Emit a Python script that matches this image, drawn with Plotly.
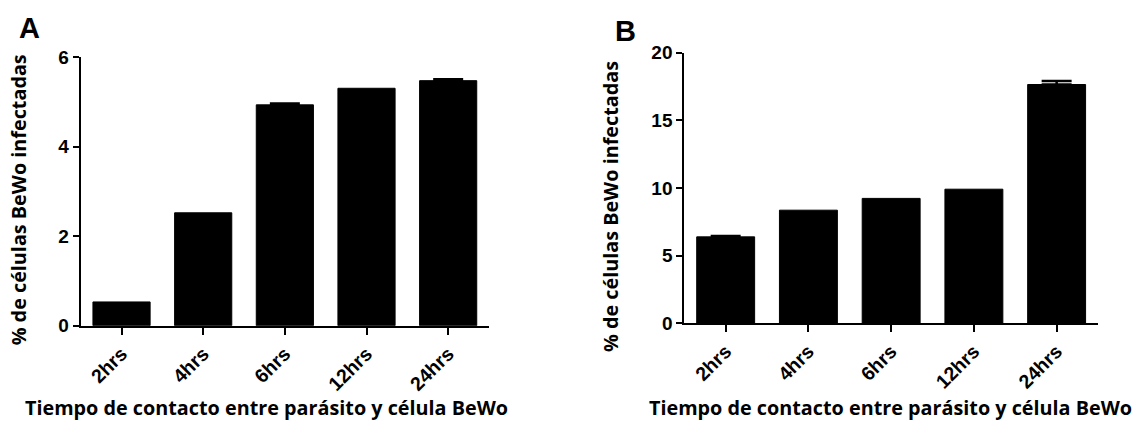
import plotly.graph_objects as go

categories = ["2hrs", "4hrs", "6hrs", "12hrs", "24hrs"]
values_a = [0.53, 2.52, 4.93, 5.30, 5.47]
errors_a = [0.0, 0.0, 0.03, 0.0, 0.03]
values_b = [6.39, 8.36, 9.23, 9.91, 17.64]
errors_b = [0.06, 0.0, 0.0, 0.0, 0.25]
yticks_a = [0, 2, 4, 6]
yticks_b = [0, 5, 10, 15, 20]
x_title = "Tiempo de contacto entre parásito y célula BeWo"
y_title = "% de células BeWo infectadas"

W, H = 1148, 435
ytick_font = dict(family="Liberation Sans, Arial", size=19, color="black", weight="bold")
xtick_font = dict(family="Liberation Sans, Arial", size=19.5, color="black", weight="bold")
title_font = dict(family="Open Sans", size=19.8, color="black", weight="bold")

fig = go.Figure()
for vals, errs, xa, ya in [(values_a, errors_a, "x", "y"), (values_b, errors_b, "x2", "y2")]:
    xs = list(range(len(categories)))
    fig.add_trace(go.Bar(
        x=xs, y=vals, width=0.7,
        marker=dict(color="black", line=dict(color="black", width=1)),
        xaxis=xa, yaxis=ya, showlegend=False,
    ))
    idx = [i for i, e in enumerate(errs) if e > 0]
    fig.add_trace(go.Scatter(
        x=[xs[i] for i in idx], y=[vals[i] for i in idx], mode="markers",
        marker=dict(size=1, color="black", opacity=0),
        error_y=dict(type="data", array=[errs[i] for i in idx], symmetric=False,
                     arrayminus=[0] * len(idx), color="black",
                     thickness=2.5, width=15),
        xaxis=xa, yaxis=ya, showlegend=False, hoverinfo="skip",
    ))

def xaxis(domain, anchor):
    return dict(domain=domain, anchor=anchor, range=[-0.5, 4.5],
                tickmode="array", tickvals=list(range(len(categories))),
                ticktext=categories, tickangle=-45, tickfont=xtick_font,
                showline=True, linecolor="black", linewidth=2,
                ticks="outside", ticklen=7, tickwidth=2, tickcolor="black",
                showgrid=False, zeroline=False, fixedrange=True)

def yaxis(domain, anchor, rng, tv):
    return dict(domain=domain, anchor=anchor, range=rng,
                tickmode="array", tickvals=tv, tickfont=ytick_font,
                showline=True, linecolor="black", linewidth=2,
                ticks="outside", ticklen=6, tickwidth=2, tickcolor="black",
                showgrid=False, zeroline=False, fixedrange=True)

fig.update_layout(
    width=W, height=H, margin=dict(l=0, r=0, t=0, b=0),
    paper_bgcolor="white", plot_bgcolor="white",
    xaxis=xaxis([80.7 / W, 489 / W], "y"),
    yaxis=yaxis([1 - 331.7 / H, 1 - 49.3 / H], "x", [0, 6], yticks_a),
    xaxis2=xaxis([684.3 / W, 1098 / W], "y2"),
    yaxis2=yaxis([1 - 329.3 / H, 1 - 44.7 / H], "x2", [0, 20], yticks_b),
    bargap=0.3,
)

annots = [
    dict(text="A", x=29 / W, y=1 - 19 / H, font=dict(family="Liberation Sans, Arial", size=29, color="black", weight="bold")),
    dict(text="B", x=625 / W, y=1 - 22 / H, font=dict(family="Liberation Sans, Arial", size=29, color="black", weight="bold")),
    dict(text=x_title, x=266 / W, y=1 - 418 / H, font=title_font),
    dict(text=x_title, x=890 / W, y=1 - 418 / H, font=title_font),
    dict(text=y_title, x=18 / W, y=1 - 200 / H, textangle=-90, font=title_font),
    dict(text=y_title, x=610 / W, y=1 - 207 / H, textangle=-90, font=title_font),
]
for a in annots:
    fig.add_annotation(xref="paper", yref="paper", showarrow=False,
                       xanchor="center", yanchor="middle", **a)

fig.write_html("out.html")
